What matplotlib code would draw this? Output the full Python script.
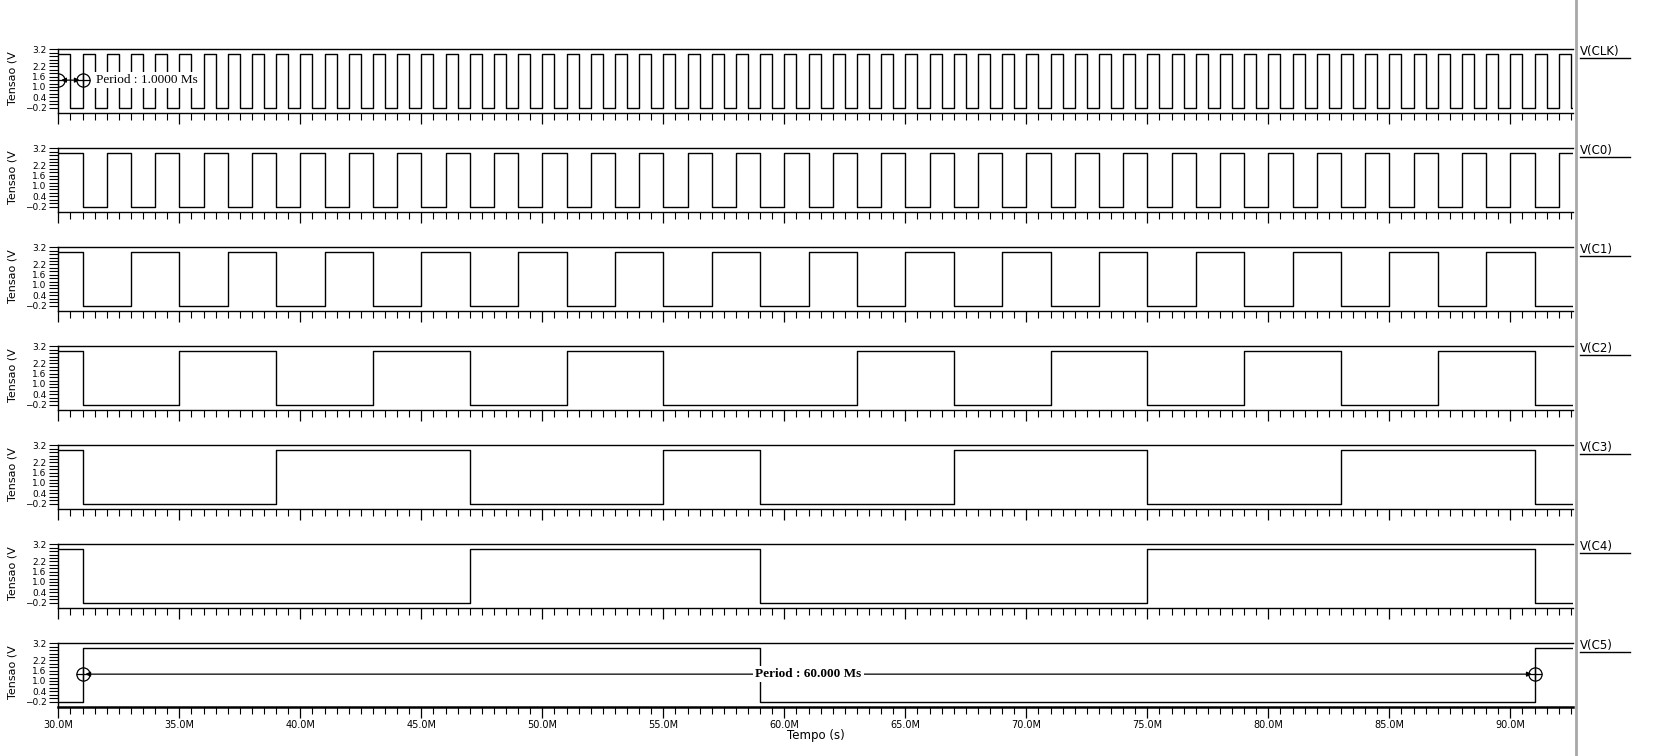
import matplotlib.pyplot as plt
import numpy as np
from matplotlib.lines import Line2D
from matplotlib.ticker import MultipleLocator, FixedLocator

# transition times (in M) of each digital trace, and the level before the first edge
clk_edges = [
    30.5, 31.0, 31.5, 32.0, 32.5, 33.0, 33.5, 34.0, 34.5, 35.0,
    35.5, 36.0, 36.5, 37.0, 37.5, 38.0, 38.5, 39.0, 39.5, 40.0,
    40.5, 41.0, 41.5, 42.0, 42.5, 43.0, 43.5, 44.0, 44.5, 45.0,
    45.5, 46.0, 46.5, 47.0, 47.5, 48.0, 48.5, 49.0, 49.5, 50.0,
    50.5, 51.0, 51.5, 52.0, 52.5, 53.0, 53.5, 54.0, 54.5, 55.0,
    55.5, 56.0, 56.5, 57.0, 57.5, 58.0, 58.5, 59.0, 59.5, 60.0,
    60.5, 61.0, 61.5, 62.0, 62.5, 63.0, 63.5, 64.0, 64.5, 65.0,
    65.5, 66.0, 66.5, 67.0, 67.5, 68.0, 68.5, 69.0, 69.5, 70.0,
    70.5, 71.0, 71.5, 72.0, 72.5, 73.0, 73.5, 74.0, 74.5, 75.0,
    75.5, 76.0, 76.5, 77.0, 77.5, 78.0, 78.5, 79.0, 79.5, 80.0,
    80.5, 81.0, 81.5, 82.0, 82.5, 83.0, 83.5, 84.0, 84.5, 85.0,
    85.5, 86.0, 86.5, 87.0, 87.5, 88.0, 88.5, 89.0, 89.5, 90.0,
    90.5, 91.0, 91.5, 92.0, 92.5,
]
c0_edges = [
    31, 32, 33, 34, 35, 36, 37, 38, 39, 40, 41, 42, 43, 44, 45, 46,
    47, 48, 49, 50, 51, 52, 53, 54, 55, 56, 57, 58, 59, 60, 61, 62,
    63, 64, 65, 66, 67, 68, 69, 70, 71, 72, 73, 74, 75, 76, 77, 78,
    79, 80, 81, 82, 83, 84, 85, 86, 87, 88, 89, 90, 91, 92,
]
c1_edges = [31, 33, 35, 37, 39, 41, 43, 45, 47, 49, 51, 53, 55, 57, 59, 61,
            63, 65, 67, 69, 71, 73, 75, 77, 79, 81, 83, 85, 87, 89, 91]
c2_edges = [31, 35, 39, 43, 47, 51, 55, 63, 67, 71, 75, 79, 83, 87, 91]
c3_edges = [31, 39, 47, 55, 59, 67, 75, 83, 91]
c4_edges = [31, 47, 59, 75, 91]
c5_edges = [31, 59, 91]

names = ["V(CLK)", "V(C0)", "V(C1)", "V(C2)", "V(C3)", "V(C4)", "V(C5)"]
all_edges = [clk_edges, c0_edges, c1_edges, c2_edges, c3_edges, c4_edges, c5_edges]
start_levels = [1, 1, 1, 1, 1, 1, 0]

v_high = 2.95
v_low = -0.2
t_start = 30.0
t_end = 92.6

ytick_vals = [-0.2, 0.4, 1.0, 1.6, 2.2, 3.2]
xtick_vals = [30, 35, 40, 45, 50, 55, 60, 65, 70, 75, 80, 85, 90]

clk_marks = [30.0, 31.0]
c5_marks = [31.0, 91.0]
mark_level = 1.4

W, H = 1678, 756
fig = plt.figure(figsize=(W / 100, H / 100), dpi=100)

top0, pitch, ph = 49.3, 99.0, 63.4
lpx, rpx = 58.3, 1573.3


def draw_marks(ax, xs, y):
    ax.plot(xs, [y, y], 'o', mfc='none', mec='black', ms=9.5, mew=0.9, zorder=6)
    ax.plot(xs, [y, y], '+', color='black', ms=9.5, mew=0.9, zorder=6)
    ax.annotate('', xy=(xs[1], y), xytext=(xs[0], y),
                arrowprops=dict(arrowstyle='<|-|>', color='black', lw=0.9,
                                shrinkA=2, shrinkB=2, mutation_scale=7), zorder=4)


for i, (name, edges, st) in enumerate(zip(names, all_edges, start_levels)):
    top = top0 + pitch * i
    ax = fig.add_axes([lpx / W, 1 - (top + ph) / H, (rpx - lpx) / W, ph / H])

    t = [t_start] + list(edges) + [t_end]
    lev = [st]
    for _ in edges:
        lev.append(1 - lev[-1])
    lev.append(lev[-1])
    v = [v_high if s else v_low for s in lev]
    ax.step(t, v, where='post', color='black', lw=1.0, zorder=3)

    ax.set_xlim(t_start, t_end)
    ax.set_ylim(-0.5, 3.2)
    ax.spines['right'].set_visible(False)
    for s in ['top', 'left', 'bottom']:
        ax.spines[s].set_linewidth(1.0)

    ax.yaxis.set_major_locator(FixedLocator(ytick_vals))
    ax.set_yticklabels([f"{y:.1f}".replace("-", "\u2212") for y in ytick_vals])
    ax.yaxis.set_minor_locator(FixedLocator(np.arange(-0.2, 3.21, 0.2)))
    ax.tick_params(axis='y', which='both', direction='out', length=6.8, width=0.8,
                   labelsize=6.5, pad=1.5)

    ax.xaxis.set_major_locator(FixedLocator(xtick_vals))
    ax.xaxis.set_minor_locator(MultipleLocator(0.5))
    ax.tick_params(axis='x', which='major', direction='out', length=8, width=0.9,
                   labelsize=7, pad=1.5)
    ax.tick_params(axis='x', which='minor', direction='out', length=5, width=0.8)
    if i == len(names) - 1:
        ax.set_xticklabels([f"{x:.1f}M" for x in xtick_vals])
        ax.spines['bottom'].set_linewidth(1.8)
    else:
        ax.set_xticklabels([])

    ax.text((12 - lpx) / (rpx - lpx), 0.54, "Tensao (V", rotation=90,
            ha='center', va='center', fontsize=8, transform=ax.transAxes)

    lx0 = (1580 - lpx) / (rpx - lpx)
    lx1 = (1630 - lpx) / (rpx - lpx)
    ax.text(lx0, 0.905, name, ha='left', va='baseline', fontsize=8.5,
            transform=ax.transAxes, clip_on=False)
    ax.plot([lx0, lx1], [0.855, 0.855], color='black', lw=1.0,
            transform=ax.transAxes, clip_on=False)

    if i == 0:
        draw_marks(ax, clk_marks, mark_level)
        ax.text(31.56, mark_level, "Period : 1.0000 Ms", ha='left', va='center',
                fontsize=9.5, family='Liberation Serif', zorder=7,
                bbox=dict(fc='white', ec='none', pad=1.5))
    if i == len(names) - 1:
        draw_marks(ax, c5_marks, mark_level)
        ax.text(sum(c5_marks) / 2, mark_level, "Period : 60.000 Ms", ha='center',
                va='center', fontsize=9.5, fontweight='bold',
                family='Liberation Serif', zorder=7,
                bbox=dict(fc='white', ec='none', pad=1.5))

fig.text((lpx + rpx) / 2 / W, 1 - 736 / H, "Tempo (s)", ha='center', va='center',
         fontsize=8.5)
fig.add_artist(Line2D([1576 / W, 1576 / W], [0, 1], transform=fig.transFigure,
                      color='#a8a8a8', lw=2))

fig.savefig("out.png", dpi=100)
